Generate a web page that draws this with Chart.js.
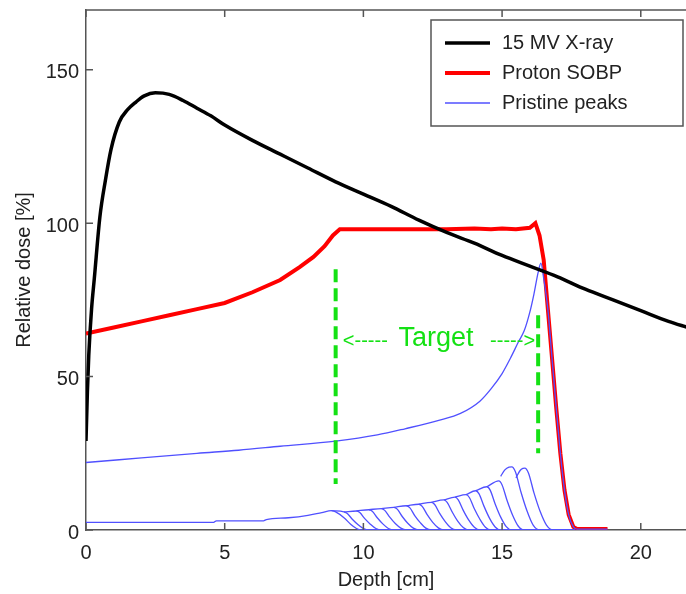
<!DOCTYPE html>
<html>
<head>
<meta charset="utf-8">
<script src="https://cdn.jsdelivr.net/npm/chart.js@4.4.1/dist/chart.umd.min.js"></script>
<style>
html, body { margin: 0; padding: 0; background: #fff; }
</style>
</head>
<body>
<canvas id="doseChart" width="686" height="594"></canvas>
<script>
// depth in cm, dose in %
const xrayDepth = [0, 0.05, 0.1, 0.2, 0.3, 0.5, 0.7, 0.9, 1.2, 1.5, 1.8, 2.1, 2.5, 3.0, 3.5, 4.0, 4.5, 5, 6, 7, 8, 9, 10, 11, 12, 13, 14, 15, 16, 17, 18, 19, 20, 21, 21.7];
const xrayDose = [29, 45, 57, 72, 82, 102, 114, 124, 133, 137, 139.5, 141.5, 142.5, 142, 140, 137.5, 135, 132, 127, 122.5, 118, 113.5, 109.5, 105.5, 101, 97, 93.5, 89.5, 86, 82.5, 78.5, 75, 71.5, 68, 66];

const sobpDepth = [0, 1, 2, 3, 4, 5, 6, 7, 7.7, 8.2, 8.6, 8.9, 9.15, 10, 11, 12, 13, 14, 14.6, 15, 15.5, 16.0, 16.2, 16.35, 16.5, 16.65, 16.8, 16.95, 17.1, 17.25, 17.4, 17.57, 17.7, 18.8];
const sobpDose = [64, 66, 68, 70, 72, 74, 77.5, 81.5, 85.7, 89, 92.5, 96, 98, 98, 98, 98, 98, 98.3, 98, 98.3, 98, 98.5, 100, 96, 88, 72, 56, 40, 25, 13, 5, 1, 0.3, 0.3];

// deepest pristine peak
const peakDepth = [0, 2, 4, 5.5, 7, 9, 10.5, 11.5, 12.75, 13.5, 14.2, 14.6, 15.0, 15.3, 15.6, 15.8, 16.0, 16.15, 16.3, 16.4, 16.5, 16.65, 16.8, 16.95, 17.1, 17.25, 17.4, 17.57, 17.7, 18.8];
const peakDose = [22, 23.5, 25, 26, 27.3, 29, 31, 33, 35.8, 38, 42, 46, 51, 56, 61.5, 65, 71, 77, 84, 87, 82, 72, 56, 40, 25, 13, 5, 1, 0.3, 0.3];

// shallower weighted pristine peaks
const smallPeakDepth = [
  [0, 4.6, 4.7, 6.4, 6.5, 7.3, 8.0, 8.5, 8.85, 9.0, 9.3, 9.55, 9.75, 9.9, 17.6],
  [8.85, 9.3, 9.42, 9.6, 9.8, 10.0, 10.2, 17.6],
  [9.3, 9.75, 9.87, 10.05, 10.25, 10.45, 10.65, 17.6],
  [9.75, 10.2, 10.32, 10.5, 10.7, 10.9, 11.1, 17.6],
  [10.2, 10.65, 10.77, 10.95, 11.15, 11.35, 11.55, 17.6],
  [10.65, 11.1, 11.22, 11.4, 11.6, 11.8, 12.0, 17.6],
  [11.1, 11.55, 11.67, 11.85, 12.05, 12.25, 12.45, 17.6],
  [11.55, 12.0, 12.12, 12.3, 12.5, 12.7, 12.9, 17.6],
  [12.0, 12.45, 12.57, 12.75, 12.95, 13.15, 13.35, 17.6],
  [12.45, 12.9, 13.02, 13.2, 13.4, 13.6, 13.8, 17.6],
  [12.9, 13.3, 13.42, 13.6, 13.8, 14.0, 14.2, 17.6],
  [13.3, 13.7, 13.82, 14.0, 14.2, 14.4, 14.6, 17.6],
  [13.7, 14.05, 14.17, 14.35, 14.55, 14.75, 14.95, 17.6],
  [14.05, 14.45, 14.57, 14.75, 14.95, 15.15, 15.35, 17.6],
  [14.45, 14.88, 15.0, 15.18, 15.38, 15.58, 15.78, 17.6],
  [14.95, 15.1, 15.25, 15.35, 15.48, 15.68, 15.9, 16.12, 16.35, 17.6],
  [15.5, 15.65, 15.75, 15.82, 15.95, 16.15, 16.37, 16.6, 16.83, 17.6]
];
const smallPeakDose = [
  [2.5, 2.5, 3.0, 3.0, 3.4, 4.0, 4.8, 5.7, 6.3, 5.9, 4.0, 1.8, 0.5, 0, 0],
  [6.3, 5.9, 5.4, 3.5, 1.8, 0.5, 0, 0],
  [5.9, 6.2, 5.7, 3.7, 1.9, 0.5, 0, 0],
  [6.2, 6.6, 6.1, 4.0, 2.0, 0.5, 0, 0],
  [6.6, 7.0, 6.4, 4.2, 2.1, 0.6, 0, 0],
  [7.0, 7.4, 6.8, 4.4, 2.2, 0.6, 0, 0],
  [7.4, 7.9, 7.3, 4.7, 2.4, 0.6, 0, 0],
  [7.9, 8.4, 7.7, 5.0, 2.5, 0.7, 0, 0],
  [8.4, 9.0, 8.3, 5.4, 2.7, 0.7, 0, 0],
  [9.0, 9.8, 9.0, 5.9, 2.9, 0.8, 0, 0],
  [9.8, 10.7, 9.8, 6.4, 3.2, 0.9, 0, 0],
  [10.7, 11.5, 10.6, 6.9, 3.5, 0.9, 0, 0],
  [11.5, 12.8, 11.8, 7.7, 3.8, 1.0, 0, 0],
  [12.8, 14.1, 13.0, 8.5, 4.2, 1.1, 0, 0],
  [14.1, 16.0, 14.7, 9.6, 4.8, 1.3, 0, 0],
  [17.5, 19.6, 20.5, 20.6, 19.0, 12.4, 6.2, 1.6, 0, 0],
  [17.0, 19.4, 20.1, 20.2, 18.6, 12.1, 6.1, 1.6, 0, 0]
];

// target region markers
const targetDepth = [9.0, 16.3];
const targetTop = [85, 70];
const targetBottom = [15, 25];
const targetLabel = 'Target';

const seriesNames = ['15 MV X-ray', 'Proton SOBP', 'Pristine peaks'];
const xTicks = [0, 5, 10, 15, 20];
const yTicks = [0, 50, 100, 150];

const BLUE = 'rgb(80,80,255)';
const GREEN = 'rgb(20,225,20)';
const FONT = "'Liberation Sans', Arial, sans-serif";

const pts = (xs, ys) => xs.map((x, i) => ({ x: x, y: ys[i] }));

const datasets = [];
targetDepth.forEach((d, i) => {
  datasets.push({ data: pts([d, d], [targetTop[i], targetBottom[i]]), borderColor: GREEN, borderWidth: 4, borderDash: [13, 6], order: -1 });
});
datasets.push({ label: seriesNames[0], data: pts(xrayDepth, xrayDose), borderColor: '#000', borderWidth: 3.5, cubicInterpolationMode: 'monotone', order: 0 });
datasets.push({ label: seriesNames[2], data: pts(peakDepth, peakDose), borderColor: BLUE, borderWidth: 1.3, cubicInterpolationMode: 'monotone', order: 1 });
smallPeakDepth.forEach((xs, i) => {
  datasets.push({ data: pts(xs, smallPeakDose[i]), borderColor: BLUE, borderWidth: 1.3, cubicInterpolationMode: 'monotone', order: 1 });
});
datasets.push({ label: seriesNames[1], data: pts(sobpDepth, sobpDose), borderColor: 'rgb(255,0,0)', borderWidth: 4, order: 2 });

// MATLAB style frame: top border and inward tick marks
const frame = {
  id: 'frame',
  afterDraw(chart) {
    const { ctx, chartArea: a, scales: { x, y } } = chart;
    ctx.save();
    ctx.strokeStyle = '#555';
    ctx.lineWidth = 1.5;
    ctx.beginPath();
    ctx.moveTo(a.left, a.top); ctx.lineTo(a.right, a.top);
    xTicks.forEach(v => {
      const px = x.getPixelForValue(v);
      ctx.moveTo(px, a.bottom); ctx.lineTo(px, a.bottom - 7);
      ctx.moveTo(px, a.top); ctx.lineTo(px, a.top + 7);
    });
    yTicks.forEach(v => {
      const py = y.getPixelForValue(v);
      ctx.moveTo(a.left, py); ctx.lineTo(a.left + 7, py);
    });
    ctx.stroke();

    // target annotation
    const ay = y.getPixelForValue(61.5);
    ctx.fillStyle = GREEN;
    ctx.textBaseline = 'middle';
    ctx.font = '27px ' + FONT;
    ctx.textAlign = 'center';
    ctx.fillText(targetLabel, x.getPixelForValue(12.62), y.getPixelForValue(62.5));
    ctx.font = '20px ' + FONT;
    ctx.textAlign = 'left';
    ctx.fillText('<-----', x.getPixelForValue(9.26), ay);
    ctx.textAlign = 'right';
    ctx.fillText('----->', x.getPixelForValue(16.19), ay);

    // legend
    ctx.fillStyle = '#fff';
    ctx.fillRect(431, 20, 252, 106);
    ctx.strokeStyle = '#555';
    ctx.lineWidth = 1.5;
    ctx.strokeRect(431, 20, 252, 106);
    const items = seriesNames.map(n => chart.data.datasets.find(d => d.label === n));
    items.forEach((d, i) => {
      const ly = 43 + i * 30;
      ctx.strokeStyle = d.borderColor;
      ctx.lineWidth = d.borderWidth;
      ctx.beginPath();
      ctx.moveTo(445, ly); ctx.lineTo(490, ly);
      ctx.stroke();
      ctx.fillStyle = '#222';
      ctx.font = '20px ' + FONT;
      ctx.textAlign = 'left';
      ctx.textBaseline = 'middle';
      ctx.fillText(d.label, 502, ly);
    });
    ctx.restore();
  }
};

new Chart(document.getElementById('doseChart'), {
  type: 'line',
  data: { datasets: datasets },
  options: {
    responsive: false,
    animation: false,
    layout: { padding: { top: 10, right: 0, bottom: 0, left: 0 } },
    elements: { point: { radius: 0 }, line: { tension: 0 } },
    plugins: { legend: { display: false }, tooltip: { enabled: false } },
    scales: {
      x: {
        type: 'linear', min: 0, max: 21.63,
        afterFit: s => { s.height = 64; s.paddingLeft = 0; s.paddingRight = 0; },
        afterBuildTicks: s => { s.ticks = xTicks.map(v => ({ value: v })); },
        grid: { drawOnChartArea: false, drawTicks: false },
        border: { color: '#555', width: 1.5 },
        ticks: { color: '#222', padding: 11, font: { family: FONT, size: 20 } },
        title: { display: true, text: 'Depth [cm]', color: '#222', padding: { top: 0, bottom: 2 }, font: { family: FONT, size: 20 } }
      },
      y: {
        min: 0, max: 169.5,
        afterFit: s => { s.width = 86; s.paddingTop = 0; s.paddingBottom = 0; },
        afterBuildTicks: s => { s.ticks = yTicks.map(v => ({ value: v })); },
        grid: { drawOnChartArea: false, drawTicks: false },
        border: { color: '#555', width: 1.5 },
        ticks: { color: '#222', padding: 7, labelOffset: 3, font: { family: FONT, size: 20 } },
        title: { display: true, text: 'Relative dose [%]', color: '#222', padding: { top: 12, bottom: 0 }, font: { family: FONT, size: 20 } }
      }
    }
  },
  plugins: [frame]
});
</script>
</body>
</html>
